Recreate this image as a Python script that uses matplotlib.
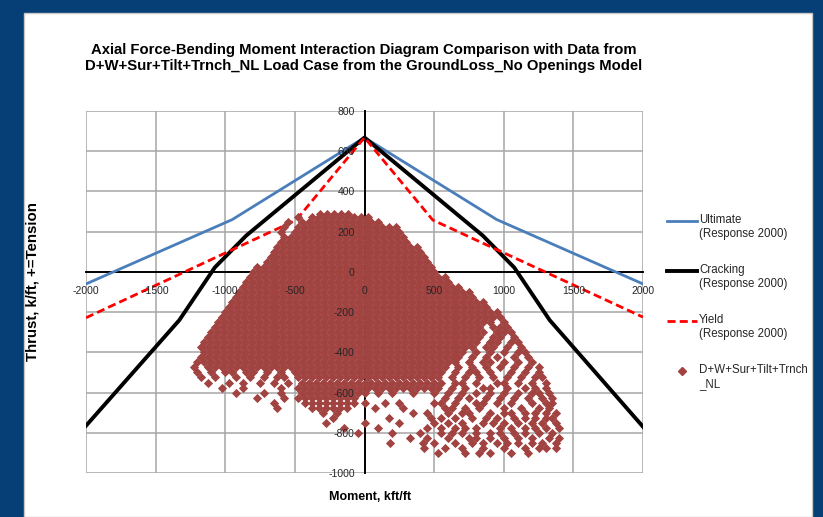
import matplotlib.pyplot as plt
from matplotlib.lines import Line2D
from matplotlib.patches import Rectangle

plt.rcParams['font.family'] = ['Liberation Sans', 'DejaVu Sans']
plt.rcParams['axes.unicode_minus'] = False

# interaction curves (Response 2000)
ultimate_m = [-2000, -950, 0, 950, 2000]
ultimate_p = [-60, 260, 668, 260, -60]
cracking_m = [-2000, -1330, -1075, -850, 0, 850, 1075, 1330, 2000]
cracking_p = [-765, -240, 22, 180, 668, 180, 22, -240, -770]
yield_m = [-2000, -490, 0, 490, 2000]
yield_p = [-228, 258, 668, 258, -225]

# load case points (thrust level -> moments)
thrust_levels = [290, 275, 250, 225, 200, 175, 150, 125, 100, 75, 50, 25, 0,
                 -25, -50, -75, -100, -125, -150, -175, -200, -225, -250,
                 -275, -300, -325, -350, -375, -400, -425, -450, -475, -500,
                 -525, -550, -575, -600, -625, -650, -675, -700, -725, -750,
                 -775, -800, -825, -850, -875, -900]
moment_rows = [
    [-320, -270, -220, -170, -120],
    [-475, -375, -325, -275, -225, -175, -125, -75, -25, 25],
    [-550, -450, -400, -350, -300, -250, -200, -150, -100, -50, 0, 50, 100],
    [-575, -475, -425, -375, -325, -275, -225, -175, -125, -75, -25, 25, 75, 125, 175, 225],
    [-600, -500, -450, -400, -350, -300, -250, -200, -150, -100, -50, 0, 50, 100, 150, 200, 250],
    [-575, -525, -475, -425, -375, -325, -275, -225, -175, -125, -75, -25, 25, 75, 125, 175, 225, 275],
    [-600, -550, -500, -450, -400, -350, -300, -250, -200, -150, -100, -50, 0, 50, 100, 150, 200, 250, 300],
    [-625, -575, -525, -475, -425, -375, -325, -275, -225, -175, -125, -75, -25, 25, 75, 125, 175, 225, 275, 325, 375],
    [-650, -600, -550, -500, -450, -400, -350, -300, -250, -200, -150, -100, -50, 0, 50, 100, 150, 200, 250, 300, 350, 400],
    [-675, -625, -575, -525, -475, -425, -375, -325, -275, -225, -175, -125, -75, -25, 25, 75, 125, 175, 225, 275, 325, 375, 425],
    [-700, -650, -600, -550, -500, -450, -400, -350, -300, -250, -200, -150, -100, -50, 0, 50, 100, 150, 200, 250, 300, 350, 400, 450],
    [-775, -725, -675, -625, -575, -525, -475, -425, -375, -325, -275, -225, -175, -125, -75, -25, 25, 75, 125, 175, 225, 275, 325, 375, 425, 475],
    [-800, -750, -700, -650, -600, -550, -500, -450, -400, -350, -300, -250, -200, -150, -100, -50, 0, 50, 100, 150, 200, 250, 300, 350, 400, 450, 500],
    [-825, -775, -725, -675, -625, -575, -525, -475, -425, -375, -325, -275, -225, -175, -125, -75, -25, 25, 75, 125, 175, 225, 275, 325, 375, 425, 475, 525, 575],
    [-850, -800, -750, -700, -650, -600, -550, -500, -450, -400, -350, -300, -250, -200, -150, -100, -50, 0, 50, 100, 150, 200, 250, 300, 350, 400, 450, 500, 550, 600],
    [-875, -825, -775, -725, -675, -625, -575, -525, -475, -425, -375, -325, -275, -225, -175, -125, -75, -25, 25, 75, 125, 175, 225, 275, 325, 375, 425, 475, 525, 575, 625, 675],
    [-900, -850, -800, -750, -700, -650, -600, -550, -500, -450, -400, -350, -300, -250, -200, -150, -100, -50, 0, 50, 100, 150, 200, 250, 300, 350, 400, 450, 500, 550, 600, 650, 700, 750],
    [-925, -875, -825, -775, -725, -675, -625, -575, -525, -475, -425, -375, -325, -275, -225, -175, -125, -75, -25, 25, 75, 125, 175, 225, 275, 325, 375, 425, 475, 525, 575, 625, 675, 725, 775],
    [-950, -900, -850, -800, -750, -700, -650, -600, -550, -500, -450, -400, -350, -300, -250, -200, -150, -100, -50, 0, 50, 100, 150, 200, 250, 300, 350, 400, 450, 500, 550, 600, 650, 700, 750, 800, 850],
    [-975, -925, -875, -825, -775, -725, -675, -625, -575, -525, -475, -425, -375, -325, -275, -225, -175, -125, -75, -25, 25, 75, 125, 175, 225, 275, 325, 375, 425, 475, 525, 575, 625, 675, 725, 775, 825, 875],
    [-1000, -950, -900, -850, -800, -750, -700, -650, -600, -550, -500, -450, -400, -350, -300, -250, -200, -150, -100, -50, 0, 50, 100, 150, 200, 250, 300, 350, 400, 450, 500, 550, 600, 650, 700, 750, 800, 850, 900, 950],
    [-1025, -975, -925, -875, -825, -775, -725, -675, -625, -575, -525, -475, -425, -375, -325, -275, -225, -175, -125, -75, -25, 25, 75, 125, 175, 225, 275, 325, 375, 425, 475, 525, 575, 625, 675, 725, 775, 825, 875, 925, 975],
    [-1050, -1000, -950, -900, -850, -800, -750, -700, -650, -600, -550, -500, -450, -400, -350, -300, -250, -200, -150, -100, -50, 0, 50, 100, 150, 200, 250, 300, 350, 400, 450, 500, 550, 600, 650, 700, 750, 800, 850, 900, 1000],
    [-1075, -1025, -975, -925, -875, -825, -775, -725, -675, -625, -575, -525, -475, -425, -375, -325, -275, -225, -175, -125, -75, -25, 25, 75, 125, 175, 225, 275, 325, 375, 425, 475, 525, 575, 625, 675, 725, 775, 825, 925, 975, 1025],
    [-1100, -1050, -1000, -950, -900, -850, -800, -750, -700, -650, -600, -550, -500, -450, -400, -350, -300, -250, -200, -150, -100, -50, 0, 50, 100, 150, 200, 250, 300, 350, 400, 450, 500, 550, 600, 650, 700, 750, 800, 850, 950, 1000, 1050],
    [-1125, -1075, -1025, -975, -925, -875, -825, -775, -725, -675, -625, -575, -525, -475, -425, -375, -325, -275, -225, -175, -125, -75, -25, 25, 75, 125, 175, 225, 275, 325, 375, 425, 475, 525, 575, 625, 675, 725, 775, 825, 925, 975, 1075],
    [-1150, -1100, -1050, -1000, -950, -900, -850, -800, -750, -700, -650, -600, -550, -500, -450, -400, -350, -300, -250, -200, -150, -100, -50, 0, 50, 100, 150, 200, 250, 300, 350, 400, 450, 500, 550, 600, 650, 700, 750, 800, 900, 950, 1050, 1100],
    [-1175, -1125, -1075, -1025, -975, -925, -875, -825, -775, -725, -675, -625, -575, -525, -475, -425, -375, -325, -275, -225, -175, -125, -75, -25, 25, 75, 125, 175, 225, 275, 325, 375, 425, 475, 525, 575, 625, 675, 725, 775, 875, 925, 1025, 1125],
    [-1150, -1100, -1050, -1000, -950, -900, -850, -800, -750, -700, -650, -600, -550, -500, -450, -400, -350, -300, -250, -200, -150, -100, -50, 0, 50, 100, 150, 200, 250, 300, 350, 400, 450, 500, 550, 600, 650, 700, 800, 900, 1000, 1100, 1150],
    [-1175, -1125, -1075, -1025, -975, -925, -875, -825, -775, -725, -675, -625, -575, -525, -475, -425, -375, -325, -275, -225, -175, -125, -75, -25, 25, 75, 125, 175, 225, 275, 325, 375, 425, 475, 525, 575, 625, 675, 775, 875, 950, 1075, 1175],
    [-1200, -1150, -1100, -1050, -1000, -950, -900, -850, -800, -750, -700, -650, -600, -550, -500, -450, -400, -350, -300, -250, -200, -150, -100, -50, 0, 50, 100, 150, 200, 250, 300, 350, 400, 450, 500, 550, 600, 650, 750, 850, 900, 1000, 1100, 1200],
    [-1225, -1125, -1075, -1025, -975, -925, -875, -825, -775, -725, -675, -625, -575, -525, -475, -425, -375, -325, -275, -225, -175, -125, -75, -25, 25, 75, 125, 175, 225, 275, 325, 375, 425, 475, 525, 575, 675, 775, 875, 975, 1075, 1175, 1250],
    [-1200, -1100, -1000, -950, -850, -800, -700, -600, -500, -450, -400, -350, -300, -250, -200, -150, -100, -50, 0, 50, 100, 150, 200, 250, 300, 350, 400, 450, 500, 550, 650, 750, 800, 900, 1050, 1150, 1250],
    [-1175, -1075, -925, -825, -725, -625, -575, -475, -425, -375, -325, -275, -225, -175, -125, -75, -25, 25, 75, 125, 175, 225, 275, 325, 375, 425, 475, 525, 625, 725, 825, 925, 1025, 1125, 1225, 1275],
    [-1125, -975, -875, -750, -650, -550, -450, -400, -350, -300, -250, -200, -150, -100, -50, 0, 50, 100, 150, 200, 250, 300, 350, 400, 450, 500, 550, 650, 700, 800, 950, 1000, 1100, 1200, 1300],
    [-1025, -875, -600, -475, -425, -375, -325, -275, -225, -175, -125, -75, -25, 25, 75, 125, 175, 225, 275, 325, 375, 425, 475, 525, 625, 725, 850, 900, 1025, 1150, 1225, 1300],
    [-925, -725, -600, -450, -400, -350, -300, -250, -200, -150, -100, -50, 0, 100, 200, 350, 500, 600, 700, 800, 900, 1000, 1100, 1200, 1250, 1325],
    [-775, -575, -475, -425, -375, -325, -275, -225, -175, -125, -75, 575, 675, 750, 875, 975, 1075, 1175, 1275, 1350],
    [-650, -425, -375, -325, -275, -225, -175, -125, -75, 0, 150, 250, 500, 550, 650, 800, 850, 950, 1050, 1200, 1300, 1350],
    [-625, -375, -325, -275, -225, -175, -125, 75, 275, 575, 625, 725, 825, 1000, 1125, 1250, 1325],
    [-300, -200, 350, 450, 600, 700, 750, 900, 1000, 1050, 1150, 1225, 1300, 1375],
    [-225, 175, 475, 550, 650, 775, 875, 950, 1075, 1150, 1225, 1300, 1350],
    [-275, 0, 250, 500, 600, 700, 850, 925, 1000, 1100, 1200, 1275, 1375],
    [-150, 100, 450, 550, 650, 725, 800, 975, 1050, 1150, 1225, 1300, 1400],
    [-50, 200, 400, 550, 625, 700, 800, 900, 975, 1075, 1150, 1250, 1350],
    [325, 450, 600, 750, 800, 900, 1000, 1100, 1200, 1325, 1400],
    [180, 420, 500, 650, 775, 850, 950, 1025, 1100, 1200, 1275, 1375],
    [425, 575, 700, 850, 1000, 1150, 1250, 1300, 1375],
    [525, 725, 825, 900, 1050, 1175],
]

x_ticks = [-2000, -1500, -1000, -500, 0, 500, 1000, 1500, 2000]
y_ticks = [-1000, -800, -600, -400, -200, 0, 200, 400, 600, 800]

load_m = [m for row in moment_rows for m in row]
load_p = [p for p, row in zip(thrust_levels, moment_rows) for _ in row]

W, H = 823, 517


def fx(px):
    return px / W


def fy(py):
    return 1 - py / H


fig = plt.figure(figsize=(8.23, 5.17), dpi=100, facecolor='#063f75')
fig.patches.append(Rectangle((fx(24), 0), fx(812) - fx(24), fy(13), transform=fig.transFigure,
                             facecolor='white', edgecolor='#c8c8c8', lw=1, zorder=-1))

ax = fig.add_axes([fx(86), fy(473), fx(643) - fx(86), fy(111) - fy(473)])
ax.set_facecolor('white')
ax.set_xlim(-2000, 2000)
ax.set_ylim(-1000, 800)

for xv in x_ticks:
    ax.axvline(xv, color='#a6a6a6', lw=1.1, zorder=0.5)
for yv in y_ticks:
    ax.axhline(yv, color='#a6a6a6', lw=1.1, zorder=0.5)

for side in ['top', 'right']:
    ax.spines[side].set_visible(False)
for side in ['left', 'bottom']:
    ax.spines[side].set_position(('data', 0))
    ax.spines[side].set_color('black')
    ax.spines[side].set_linewidth(1.4)
    ax.spines[side].set_zorder(0.8)

ax.set_xticks(x_ticks)
ax.set_yticks(y_ticks)
ax.tick_params(length=0, labelsize=7.5, labelcolor='#262626')
ax.tick_params(axis='x', pad=10)
ax.tick_params(axis='y', pad=7)
ax.xaxis.set_zorder(5)
ax.yaxis.set_zorder(5)

ax.plot(ultimate_m, ultimate_p, color='#4a7ebb', lw=2, zorder=2)
ax.plot(cracking_m, cracking_p, color='black', lw=2.8, zorder=2)
ax.plot(yield_m, yield_p, color='#ff0000', lw=2, dashes=(2.9, 1.5), zorder=2)
ax.scatter(load_m, load_p, marker='D', s=22, color='#a14341', lw=0, zorder=3)

fig.text(fx(364), fy(58),
         'Axial Force-Bending Moment Interaction Diagram Comparison with Data from\n'
         'D+W+Sur+Tilt+Trnch_NL Load Case from the GroundLoss_No Openings Model',
         ha='center', va='center', fontsize=10.7, weight='bold', linespacing=1.1)
fig.text(fx(33), fy(282), 'Thrust, k/ft, +=Tension', rotation=90, ha='center', va='center',
         fontsize=10.8, weight='bold')
fig.text(fx(370), fy(497), 'Moment, kft/ft', ha='center', va='center', fontsize=9, weight='bold')

# legend, drawn by hand so the key sits on the first text line
legend_y = [221, 271, 321, 371]
legend_labels = ['Ultimate\n(Response 2000)', 'Cracking\n(Response 2000)',
                 'Yield\n(Response 2000)', 'D+W+Sur+Tilt+Trnch\n_NL']
fig.add_artist(Line2D([fx(667), fx(697)], [fy(221)] * 2, color='#4a7ebb', lw=2))
fig.add_artist(Line2D([fx(667), fx(697)], [fy(271)] * 2, color='black', lw=2.8))
fig.add_artist(Line2D([fx(667), fx(697)], [fy(321)] * 2, color='#ff0000', lw=2, dashes=(2.9, 1.5)))
fig.add_artist(Line2D([fx(682)], [fy(371)], color='#a14341', marker='D', ms=4, lw=0))
for y, lab in zip(legend_y, legend_labels):
    fig.text(fx(699), fy(y - 7), lab, ha='left', va='top', fontsize=8.3, color='#262626',
             linespacing=1.25)

fig.savefig('out.png', dpi=100, facecolor=fig.get_facecolor())
